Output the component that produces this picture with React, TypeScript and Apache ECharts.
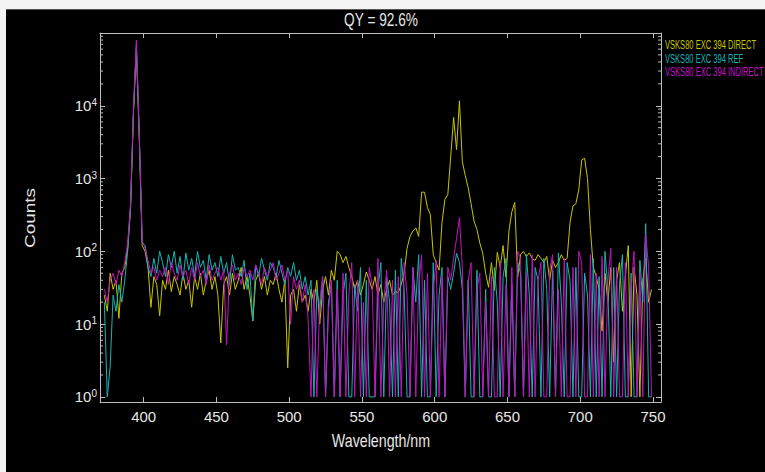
import React, { useEffect, useRef } from 'react';
import * as echarts from 'echarts';

// Wavelength sampling grid (nm): 373, 375, ... 749
const WL_START = 373;
const WL_STEP = 2;

// Counts (one value per 2 nm step)
const DIRECT = [
  25, 15, 50, 30, 40, 12, 50, 60, 110, 380,
  8000, 60000, 3500, 120, 100, 60, 17, 45, 35, 13,
  40, 30, 55, 28, 45, 35, 25, 50, 30, 40,
  17, 45, 30, 50, 25, 40, 55, 30, 45, 25,
  5.5, 35, 45, 25, 50, 30, 40, 60, 30, 45,
  25, 11, 40, 50, 30, 45, 25, 40, 35, 50,
  30, 20, 40, 2.5, 25, 30, 15, 35, 20, 25,
  15, 30, 20, 40, 10, 30, 45, 25, 55, 40,
  100, 90, 70, 85, 60, 45, 30, 40, 25, 35,
  52, 40, 30, 45, 25, 35, 20, 30, 40, 25,
  28, 27, 35, 50, 110, 160, 190, 210, 160, 650,
  650, 400, 320, 90, 70, 55, 250, 520, 600, 2000,
  6900, 2500, 11700, 1700, 1100, 750, 450, 260, 200, 130,
  94, 50, 32, 70, 29, 97, 60, 120, 44, 190,
  350, 470, 44, 90, 100, 85, 95, 80, 75, 90,
  80, 70, 85, 40, 75, 60, 70, 90, 75, 80,
  250, 420, 450, 700, 1800, 1900, 1000, 200, 60, 45,
  30, 8, 50, 20, 60, 3, 40, 70, 15, 45,
  120, 1, 60, 25, 1, 40, 80, 20, 30,
];

const REF = [
  20, 1, 2.6, 25, 15, 35, 20, 40, 100, 420,
  8500, 68000, 3800, 130, 120, 60, 45, 80, 50, 100,
  70, 45, 90, 60, 100, 50, 85, 40, 95, 55,
  80, 45, 100, 60, 75, 40, 90, 55, 70, 45,
  85, 50, 70, 35, 90, 55, 60, 45, 75, 30,
  50, 11, 65, 45, 80, 55, 40, 70, 60, 45,
  75, 50, 35, 60, 45, 70, 40, 55, 30, 45,
  25, 40, 1, 30, 15, 45, 1, 20, 35, 1,
  40, 1, 25, 50, 1, 1, 35, 15, 60, 1,
  40, 1, 1, 1, 30, 70, 1, 45, 20, 1,
  55, 1, 80, 30, 1, 1, 60, 20, 90, 1,
  40, 1, 1, 70, 1, 25, 60, 1, 45, 30,
  50, 94, 70, 30, 1, 40, 1, 1, 55, 1,
  1, 30, 1, 1, 60, 20, 1, 45, 80, 1,
  35, 1, 70, 50, 1, 90, 25, 1, 60, 40,
  1, 80, 30, 1, 55, 1, 95, 20, 1, 70,
  40, 1, 60, 1, 1, 50, 25, 1, 80, 1,
  45, 1, 100, 30, 1, 60, 1, 35, 90, 1,
  1, 50, 1, 1, 75, 20, 240, 1, 1,
];

const INDIRECT = [
  30, 20, 40, 50, 35, 55, 45, 70, 130, 450,
  9500, 80000, 4500, 140, 110, 75, 50, 60, 40, 55,
  45, 60, 35, 70, 50, 40, 65, 45, 55, 35,
  60, 40, 70, 45, 55, 35, 65, 40, 50, 60,
  40, 55, 5.2, 50, 65, 40, 50, 35, 60, 45,
  55, 40, 65, 50, 35, 60, 45, 55, 70, 40,
  50, 65, 40, 55, 10, 45, 30, 40, 20, 35,
  12, 1, 30, 1, 20, 45, 1, 15, 40, 1,
  30, 1, 50, 1, 25, 70, 1, 40, 1, 20,
  1, 60, 35, 1, 80, 1, 20, 55, 1, 40,
  1, 45, 1, 70, 25, 1, 60, 1, 35, 90,
  1, 50, 1, 30, 75, 1, 45, 1, 60, 40,
  80, 150, 290, 60, 1, 40, 70, 1, 30, 50,
  1, 20, 1, 45, 1, 1, 70, 1, 35, 1,
  60, 1, 100, 80, 1, 50, 1, 90, 1, 40,
  70, 1, 1, 55, 90, 1, 30, 1, 80, 1,
  1, 60, 1, 100, 70, 1, 1, 90, 1, 50,
  1, 85, 1, 40, 110, 1, 60, 1, 1, 70,
  1, 30, 100, 1, 50, 1, 170, 60, 1,
];

const SERIES_NAMES = ['VSKS80 EXC 394 DIRECT', 'VSKS80 EXC 394 REF', 'VSKS80 EXC 394 INDIRECT'];
const SERIES_COLORS = ['#c8c400', '#18b4b4', '#c412c4'];

const X_MIN = 370;
const X_MAX = 755.5;
const Y_MIN = 0.85;
const Y_MAX = 100000;
const DECADES = [1, 10, 100, 1000, 10000];
const MINOR_MULT = [2, 3, 4, 5, 6, 7, 8, 9];

const TITLE = 'QY = 92.6%';
const X_NAME = 'Wavelength/nm';
const Y_NAME = 'Counts';

const FONT = "'Liberation Sans', Arial, sans-serif";
const AXIS_COLOR = '#bdbdbd';
const TEXT_COLOR = '#e6e6e6';

export default function App() {
  const ref = useRef<HTMLDivElement>(null);

  useEffect(() => {
    document.body.style.margin = '0';
    if (!ref.current) return;
    const chart = echarts.init(ref.current, undefined, { renderer: 'svg' });

    const toPairs = (vals: number[]) => vals.map((v, i) => [WL_START + i * WL_STEP, v]);
    const minorTicks: number[] = [];
    DECADES.forEach((d) => MINOR_MULT.forEach((m) => minorTicks.push(d * m)));

    const lineSeries = [DIRECT, REF, INDIRECT].map((vals, i) => ({
      name: SERIES_NAMES[i],
      type: 'line',
      data: toPairs(vals),
      showSymbol: false,
      symbol: 'none',
      color: SERIES_COLORS[i],
      lineStyle: { width: 1, color: SERIES_COLORS[i] },
      emphasis: { disabled: true },
      z: 2 + i,
    }));

    const axisLine = { show: true, lineStyle: { color: AXIS_COLOR, width: 1 } };
    const tickStyle = { show: true, inside: true, length: 5, lineStyle: { color: AXIS_COLOR } };

    // Texts drawn squeezed horizontally, as in the reference picture
    const graphics: any[] = [
      {
        type: 'text',
        x: 375,
        y: 10,
        scaleX: 0.76,
        style: { text: TITLE, fill: TEXT_COLOR, font: `18px ${FONT}`, textAlign: 'center', textVerticalAlign: 'middle' },
      },
      {
        type: 'text',
        x: 375,
        y: 430,
        scaleX: 0.79,
        style: { text: X_NAME, fill: TEXT_COLOR, font: `18px ${FONT}`, textAlign: 'center', textVerticalAlign: 'middle' },
      },
      {
        type: 'text',
        x: 24,
        y: 208,
        rotation: Math.PI / 2,
        scaleY: 0.8,
        style: { text: Y_NAME, fill: TEXT_COLOR, font: `19px ${FONT}`, textAlign: 'center', textVerticalAlign: 'middle' },
      },
      ...SERIES_NAMES.map((n, i) => ({
        type: 'text',
        x: 659,
        y: 35 + i * 13.5,
        scaleX: 0.63,
        style: { text: n, fill: SERIES_COLORS[i], font: `12px ${FONT}`, textAlign: 'left', textVerticalAlign: 'middle' },
      })),
    ];

    chart.setOption({
      animation: false,
      backgroundColor: '#000',
      graphic: graphics,
      grid: { left: 94, top: 23, right: 104, bottom: 70, containLabel: false },
      xAxis: [
        {
          type: 'value',
          min: X_MIN,
          max: X_MAX,
          splitNumber: 8,
          axisLine,
          axisTick: tickStyle,
          axisLabel: { color: TEXT_COLOR, fontSize: 15, fontFamily: FONT, margin: 7, showMinLabel: false, showMaxLabel: false },
          splitLine: { show: false },
        },
        {
          type: 'value',
          position: 'top',
          min: X_MIN,
          max: X_MAX,
          splitNumber: 8,
          axisLine,
          axisTick: tickStyle,
          axisLabel: { show: false },
          splitLine: { show: false },
        },
      ],
      yAxis: [
        {
          type: 'log',
          logBase: 10,
          min: Y_MIN,
          max: Y_MAX,
          axisLine,
          axisTick: tickStyle,
          axisLabel: {
            margin: 3,
            showMinLabel: false,
            showMaxLabel: false,
            formatter: (v: number) => {
              const e = Math.round(Math.log10(v));
              if (e < 0 || e > 4 || Math.abs(v - Math.pow(10, e)) > 1e-6 * v) return '';
              return `{b|10}{s|${e}}`;
            },
            rich: {
              b: { color: TEXT_COLOR, fontSize: 15, fontFamily: FONT, lineHeight: 17 },
              s: { color: TEXT_COLOR, fontSize: 10, fontFamily: FONT, verticalAlign: 'top', lineHeight: 17 },
            },
          },
          splitLine: { show: false },
        },
        {
          type: 'log',
          logBase: 10,
          position: 'right',
          min: Y_MIN,
          max: Y_MAX,
          axisLine,
          axisTick: tickStyle,
          axisLabel: { show: false },
          splitLine: { show: false },
        },
      ],
      series: [
        ...lineSeries,
        {
          type: 'custom',
          name: '__minor_ticks',
          silent: true,
          z: 10,
          data: minorTicks.map((v) => [X_MIN, v]),
          renderItem: (params: any, api: any) => {
            const cs = params.coordSys;
            const y = api.coord([X_MIN, api.value(1)])[1];
            const style = { stroke: AXIS_COLOR, lineWidth: 1 };
            return {
              type: 'group',
              children: [
                { type: 'line', shape: { x1: cs.x, y1: y, x2: cs.x + 3, y2: y }, style },
                { type: 'line', shape: { x1: cs.x + cs.width - 3, y1: y, x2: cs.x + cs.width, y2: y }, style },
              ],
            };
          },
        },
      ],
    });

    return () => chart.dispose();
  }, []);

  return (
    <div style={{ position: 'fixed', left: 0, top: 0, width: 765, height: 472, background: '#f3f3f3', overflow: 'hidden' }}>
      <div style={{ position: 'absolute', left: 6, top: 9, width: 759, height: 1, background: '#555' }} />
      <div ref={ref} style={{ position: 'absolute', left: 6, top: 10, width: 759, height: 462 }} />
    </div>
  );
}
